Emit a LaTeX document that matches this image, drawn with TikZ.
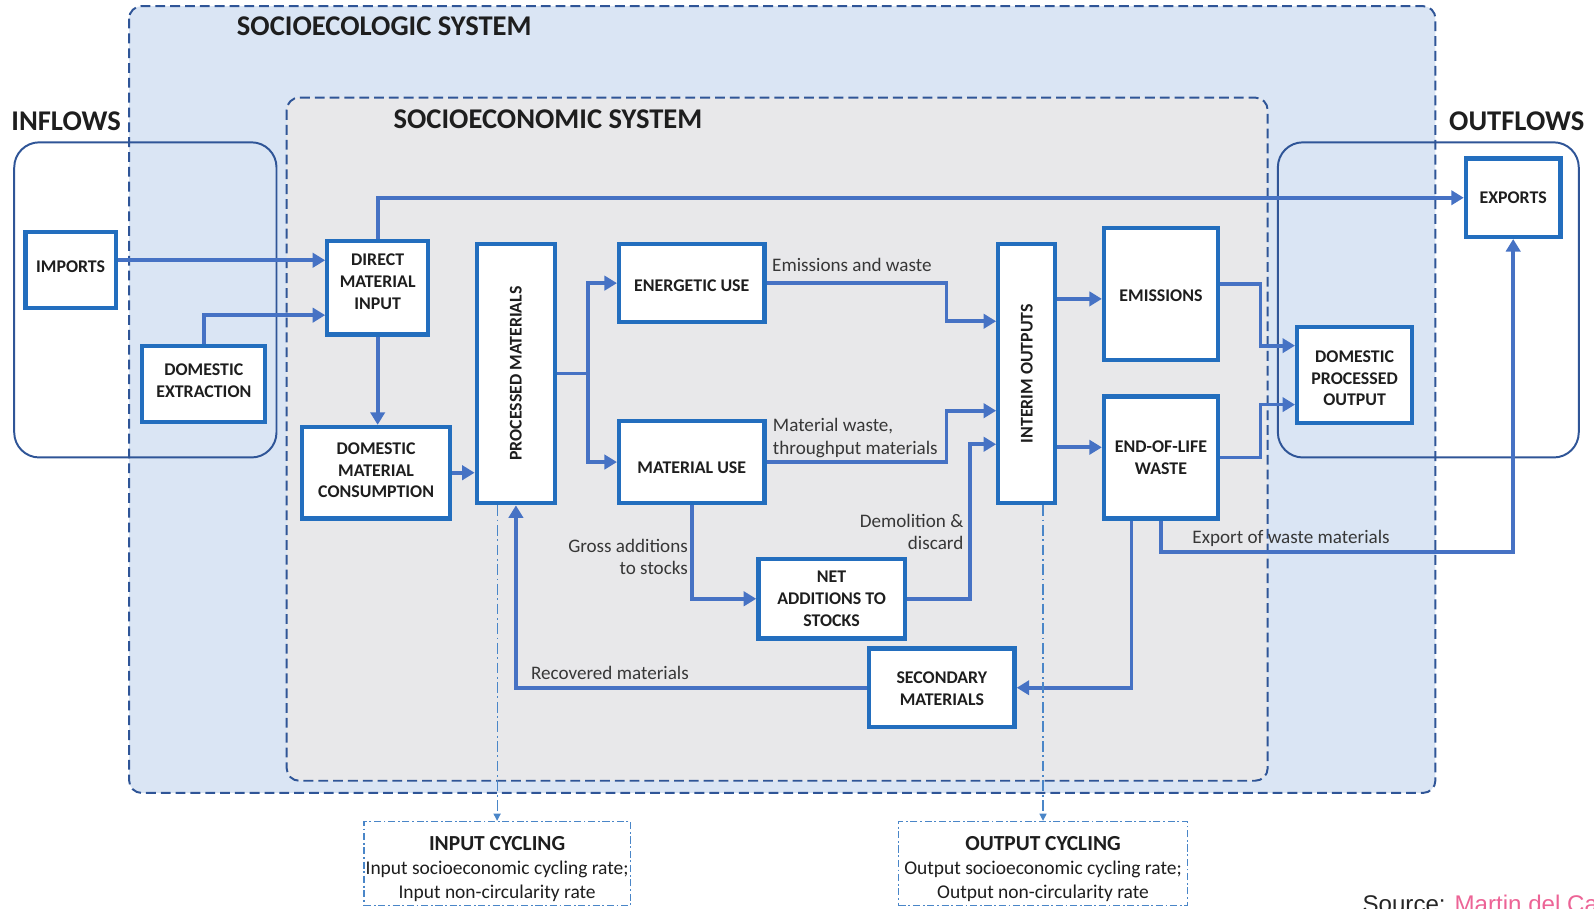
\documentclass[tikz,border=0pt]{standalone}
\usepackage{fontspec}
\setmainfont{Carlito}
\newfontfamily\srcfont{Liberation Sans}
\usetikzlibrary{arrows.meta,fit,calc}
\definecolor{boxblue}{RGB}{35,110,190}
\definecolor{flowblue}{RGB}{70,114,196}
\definecolor{sysline}{RGB}{47,85,151}
\definecolor{ecofill}{RGB}{218,229,244}
\definecolor{econfill}{RGB}{232,232,234}
\definecolor{txt}{RGB}{30,30,30}
\definecolor{lbl}{RGB}{55,55,55}
\definecolor{cyc}{RGB}{74,134,200}
\definecolor{srcpink}{RGB}{236,100,150}
\tikzset{
  box/.style={draw=boxblue, line width=2.4pt, fill=white, inner sep=0pt},
  boxtext/.style={align=center, font=\bfseries\fontsize{10}{12.2}\selectfont, text=txt, inner sep=0pt},
  vlabel/.style={rotate=90, font=\bfseries\fontsize{10}{12}\selectfont, text=txt, inner sep=0pt},
  flow/.style={draw=flowblue, line width=2.1pt, -{Triangle[length=7pt,width=8pt]}},
  elabel/.style={font=\fontsize{10.7}{12.5}\selectfont, text=lbl, inner sep=0pt},
  title/.style={font=\bfseries\fontsize{16}{19}\selectfont, text=txt, inner sep=0pt},
  sysbox/.style={draw=sysline, line width=1.1pt, dash pattern=on 5.5pt off 2.8pt, rounded corners=7pt},
  flowframe/.style={draw=sysline, line width=1.1pt, rounded corners=14pt},
  cycbox/.style={draw=cyc, line width=0.7pt, dash pattern=on 4pt off 1.5pt on 1pt off 1.5pt,
    fill=white, inner sep=0pt},
  cyctext/.style={align=center, font=\fontsize{10.9}{13.2}\selectfont, text=txt, inner sep=0pt},
  cycarrow/.style={draw=cyc, line width=0.6pt, dash pattern=on 6pt off 2pt on 1pt off 2pt,
    -{Triangle[length=4pt,width=4pt]}}
}
\begin{document}
\begin{tikzpicture}[x=0.02cm,y=-0.02cm]
\useasboundingbox (0,0) rectangle (1568,894);
% system frames
\draw[sysbox, fill=ecofill] (127,6) rectangle (1412,780);
\draw[sysbox, fill=econfill] (282,96) rectangle (1247,768);
\draw[flowframe] (14,140) rectangle (272,450);
\draw[flowframe] (1257,140) rectangle (1553,450);
% titles
\node[title] (t1) at (378,26) {SOCIOECOLOGIC SYSTEM};
\node[title] (t2) at (539,117) {SOCIOECONOMIC SYSTEM};
\node[title] (t3) at (65,119) {INFLOWS};
\node[title] (t4) at (1492,119) {OUTFLOWS};
% nodes
\node[box, fit={(25,228) (114,303)}, label={[boxtext, yshift=2pt]center:IMPORTS}] (imp) {};
\node[box, fit={(140,340) (261,415)}, label={[boxtext, yshift=1.5pt]center:{DOMESTIC\\EXTRACTION}}] (de) {};
\node[box, fit={(322,237) (421,329)}, label={[boxtext, yshift=3.3pt]center:{DIRECT\\MATERIAL\\INPUT}}] (dmi) {};
\node[box, fit={(297,420) (443,510)}, label={[boxtext, yshift=1.3pt]center:{DOMESTIC\\MATERIAL\\CONSUMPTION}}] (dmc) {};
\node[box, fit={(469,240) (546,495)}] (pm) {};
\node[vlabel] (pmt) at (pm.center) {PROCESSED MATERIALS};
\node[box, fit={(609,240) (752,317)}, label={[boxtext, yshift=-1.3pt]center:ENERGETIC USE}] (eu) {};
\node[box, fit={(609,414) (752,495)}, label={[boxtext, yshift=-3pt]center:MATERIAL USE}] (mu) {};
\node[box, fit={(982,240) (1038,495)}] (io) {};
\node[vlabel] (iot) at (io.center) {INTERIM OUTPUTS};
\node[box, fit={(1086,224) (1198,354)}, label={[boxtext, yshift=-0.8pt]center:EMISSIONS}] (em) {};
\node[box, fit={(1086,390) (1198,510)}, label={[boxtext]center:{END-OF-LIFE\\WASTE}}] (eol) {};
\node[box, fit={(1276,322) (1389,416)}, label={[boxtext, yshift=-1.8pt]center:{DOMESTIC\\PROCESSED\\OUTPUT}}] (dpo) {};
\node[box, fit={(1442,156) (1535,233)}, label={[boxtext]center:EXPORTS}] (exp) {};
\node[box, fit={(746,550) (890,628)}, label={[boxtext]center:{NET\\ADDITIONS TO\\STOCKS}}] (nas) {};
\node[box, fit={(855,638) (998,715)}, label={[boxtext, yshift=-0.6pt]center:{SECONDARY\\MATERIALS}}] (sec) {};
\node[cycbox, fit={(358,808) (620,891)}, label={[cyctext, yshift=-3pt]center:{{\bfseries\fontsize{12}{14}\selectfont INPUT CYCLING}\\Input socioeconomic cycling rate;\\Input non-circularity rate}}] (ic) {};
\node[cycbox, fit={(884,808) (1168,891)}, label={[cyctext, yshift=-3pt]center:{{\bfseries\fontsize{12}{14}\selectfont OUTPUT CYCLING}\\Output socioeconomic cycling rate;\\Output non-circularity rate}}] (oc) {};
% helper coordinates
\coordinate (h256) at (0,256);
\coordinate (h310) at (0,310);
\coordinate (h294) at (0,294);
\coordinate (h440) at (0,440);
\coordinate (h279) at (0,279);
\coordinate (h543) at (0,543);
\coordinate (a1) at (931,316);
\coordinate (a2) at (931,404);
\coordinate (a3) at (954,437);
\coordinate (a4) at (1240,340);
\coordinate (a5) at (1240,398);
\coordinate (v1113) at (1113,0);
\coordinate (v489) at (489,0);
\coordinate (v1026) at (1026,0);
% flows
\draw[flow] (imp.east |- h256) -- (dmi.west |- h256);
\draw[flow] (de.north) |- (dmi.west |- h310);
\draw[flow] (dmi.north) |- (exp.west);
\draw[flow] (dmi.south) -- (dmi.south |- dmc.north);
\draw[flow] (dmc.east) -- (pm.west |- dmc.east);
\draw[flow] (pm.east) -- ++(30,0) |- (eu.west);
\draw[flow] (pm.east) -- ++(30,0) |- (mu.west);
\draw[flow] (eu.east) -| (a1) -- (io.west |- a1);
\draw[flow] (mu.east) -| (a2) -- (io.west |- a2);
\draw[flow] (mu.south) |- (nas.west);
\draw[flow] (nas.east) -| (a3) -- (io.west |- a3);
\draw[flow] (io.east |- h294) -- (em.west |- h294);
\draw[flow] (io.east |- h440) -- (eol.west |- h440);
\draw[flow] (em.east |- h279) -| (a4) -- (dpo.west |- a4);
\draw[flow] (eol.east) -| (a5) -- (dpo.west |- a5);
\draw[flow] (eol.south) |- (exp.south |- h543) -- (exp.south);
\draw[flow] (eol.south -| v1113) |- (sec.east);
\draw[flow] (sec.west) -| (pm.south);
\draw[cycarrow] (pm.south -| v489) -- (ic.north -| v489);
\draw[cycarrow] (io.south -| v1026) -- (oc.north -| v1026);
% labels
\node[elabel] (l1) at (838,261) {Emissions and waste};
\node[elabel, anchor=west, align=left] (l2) at (760,431) {Material waste,\\throughput materials};
\node[elabel, anchor=east, align=right] (l3) at (677,548) {Gross additions\\to stocks};
\node[elabel, anchor=east, align=right] (l4) at (948,523) {Demolition \&\\discard};
\node[elabel] (l5) at (1270,530) {Export of waste materials};
\node[elabel] (l6) at (600,662) {Recovered materials};
% source
\node[anchor=base west, font=\srcfont\fontsize{13.5}{16}\selectfont, inner sep=0pt, text=black!85] (src) at (1340,898) {Source: \textcolor{srcpink}{Martin del Ca}};
\end{tikzpicture}
\end{document}
